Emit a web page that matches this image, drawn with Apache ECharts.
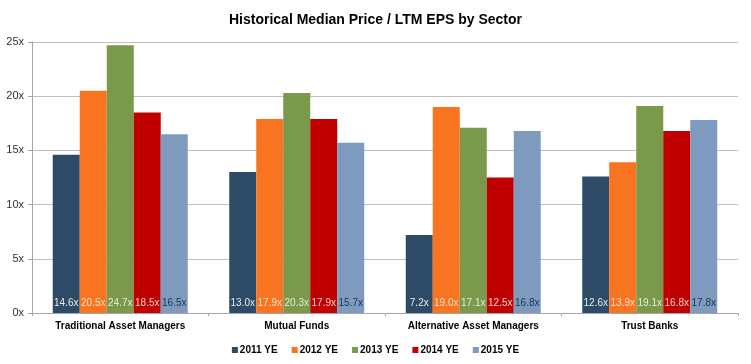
<!DOCTYPE html>
<html><head><meta charset="utf-8">
<script src="https://cdn.jsdelivr.net/npm/echarts@6/dist/echarts.min.js"></script>
<style>html,body{margin:0;padding:0;background:#fff}#c{width:751px;height:364px}</style>
</head><body><div id="c"></div>
<script>
const categories = ['Traditional Asset Managers','Mutual Funds','Alternative Asset Managers','Trust Banks'];
const seriesNames = ['2011 YE','2012 YE','2013 YE','2014 YE','2015 YE'];
const v2011 = [14.6, 13.0, 7.2, 12.6];
const v2012 = [20.5, 17.9, 19.0, 13.9];
const v2013 = [24.7, 20.3, 17.1, 19.1];
const v2014 = [18.5, 17.9, 12.5, 16.8];
const v2015 = [16.5, 15.7, 16.8, 17.8];
const yTicks = [0, 5, 10, 15, 20, 25];

const colors = ['#2d4a66','#f97420','#7a994a','#c00000','#7e9bbf'];
const labelColors = ['#e8ecf0','#fde0c8','#e4ecd8','#f6d0d0','#1f3349'];
const values = [v2011, v2012, v2013, v2014, v2015];

const chart = echarts.init(document.getElementById('c'));
chart.setOption({
  animation: false,
  textStyle: {fontFamily: 'Liberation Sans, Arial, sans-serif'},
  title: {text: 'Historical Median Price / LTM EPS by Sector', left: 'center', top: 8,
    textStyle: {fontSize: 14, fontWeight: 'bold', color: '#000', fontFamily: 'Liberation Sans, Arial, sans-serif'}},
  legend: {bottom: 4, left: 'center', itemWidth: 6, itemHeight: 6, itemGap: 14, icon: 'rect',
    textStyle: {fontSize: 10, fontWeight: 'bold', color: '#000', padding: [0,0,0,-3]}},
  grid: {left: 32, right: 13, top: 42, bottom: 51, containLabel: false},
  xAxis: {type: 'category', data: categories,
    axisLine: {lineStyle: {color: '#a6a6a6', width: 1}},
    axisTick: {show: true, length: 3, lineStyle: {color: '#a6a6a6'}},
    axisLabel: {fontSize: 10, fontWeight: 'bold', color: '#000', margin: 8}},
  yAxis: {type: 'value', min: yTicks[0], max: yTicks[yTicks.length-1], interval: 5,
    axisLine: {show: true, lineStyle: {color: '#a6a6a6'}},
    axisTick: {show: true, length: 4, lineStyle: {color: '#a6a6a6'}},
    splitLine: {lineStyle: {color: '#bfbfbf', width: 1}},
    axisLabel: {fontSize: 11, color: '#333', margin: 8, formatter: v => v + 'x'}},
  series: seriesNames.map((n, i) => ({
    name: n, type: 'bar', data: values[i], barWidth: 27, barGap: '0%',
    itemStyle: {color: colors[i]},
    label: {show: true, position: 'insideBottom', distance: 5, fontSize: 10,
      color: labelColors[i], formatter: p => p.value.toFixed(1) + 'x'}
  }))
});
</script></body></html>
